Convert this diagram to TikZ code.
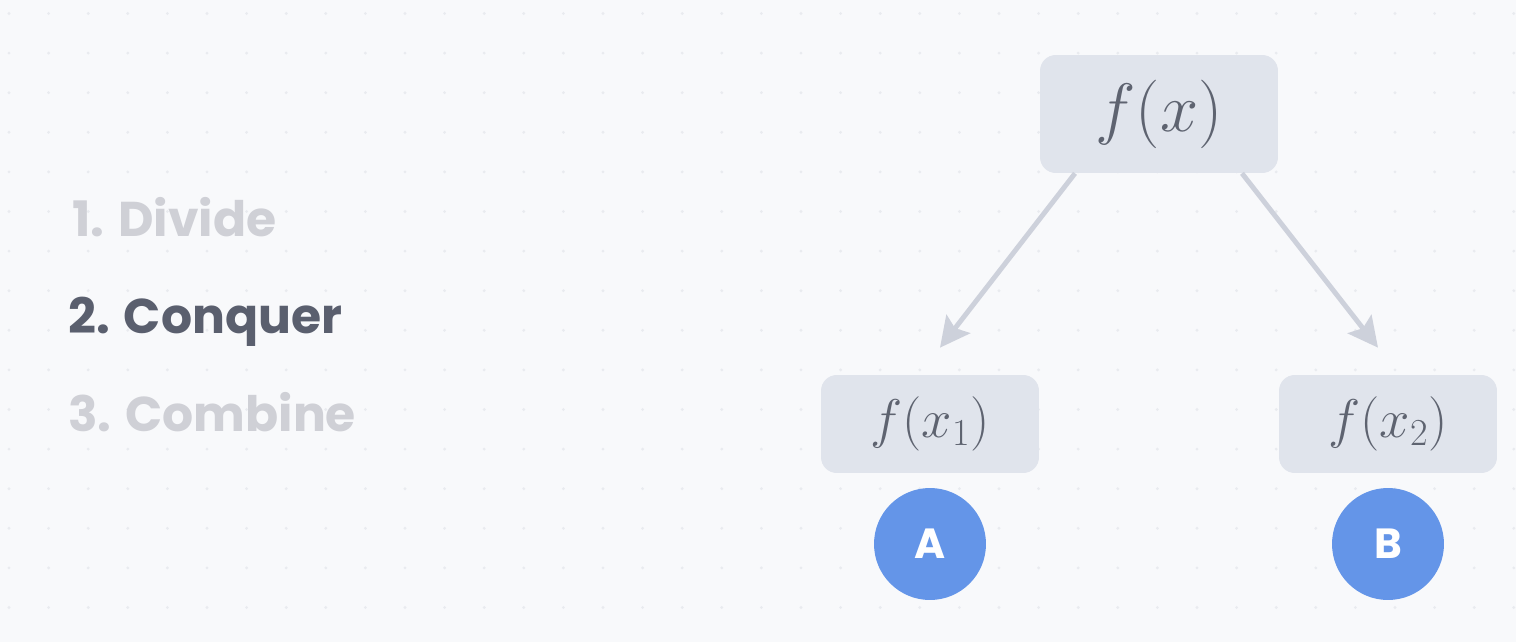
\documentclass[tikz,border=0pt]{standalone}
\usepackage{fix-cm}
\usepackage{fontspec}
\setmainfont{Poppins}
\usetikzlibrary{arrows.meta,calc,positioning}
\definecolor{bggray}{RGB}{248,249,251}
\definecolor{dotgray}{RGB}{233,235,239}
\definecolor{boxgray}{RGB}{224,228,236}
\definecolor{termgray}{RGB}{94,99,112}
\definecolor{arrowgray}{RGB}{205,209,219}
\definecolor{stepdark}{RGB}{90,95,110}
\definecolor{steplight}{RGB}{207,208,214}
\definecolor{callblue}{RGB}{100,149,232}

\begin{document}
\begin{tikzpicture}[x=0.02cm,y=-0.02cm,>={Stealth[length=17pt,width=17pt,inset=3pt]},
  callbox/.style={fill=boxgray,rounded corners=9pt,text=termgray,inner sep=0pt},
  stepname/.style={anchor=base west,inner sep=0pt,font=\fontsize{27.8}{28}\selectfont\bfseries},
  marker/.style={circle,fill=callblue,text=white,minimum size=2.24cm,inner sep=0pt,
    font=\fontsize{24}{24}\selectfont\bfseries},
  link/.style={->,arrowgray,line width=2.8pt}]
    \fill[bggray] (0,0) rectangle (1516,642);
    \useasboundingbox (0,0) rectangle (1516,642);
    \foreach \i in {0,...,38}
      \foreach \j in {0,...,16}
        \fill[dotgray] (9+39.6*\i,13.5+39.6*\j) circle (0.9pt);

    % steps
    \node[stepname,text=steplight] (divide) at (72,236) {1. Divide};
    \node[stepname,text=stepdark] (conquer) at (68,333) {2. Conquer};
    \node[stepname,text=steplight] (combine) at (68,431) {3. Combine};

    % call tree
    \node[callbox,minimum width=4.76cm,minimum height=2.36cm,font=\fontsize{39}{39}\selectfont]
      (fx) at (1159,114) {$f(x)$};
    \node[callbox,minimum width=4.36cm,minimum height=1.96cm,font=\fontsize{31}{31}\selectfont]
      (fxa) at (930,424) {$f(x_1)$};
    \node[callbox,minimum width=4.36cm,minimum height=1.96cm,font=\fontsize{31}{31}\selectfont]
      (fxb) at (1388,424) {$f(x_2)$};
    \node[marker] (callA) at (930,544) {A};
    \node[marker] (callB) at (1388,544) {B};

    \draw[link] ([xshift=-1.68cm]fx.south) -- ([xshift=0.2cm,yshift=0.54cm]fxa.north);
    \draw[link] ([xshift=1.66cm]fx.south) -- ([xshift=-0.2cm,yshift=0.54cm]fxb.north);
\end{tikzpicture}
\end{document}
